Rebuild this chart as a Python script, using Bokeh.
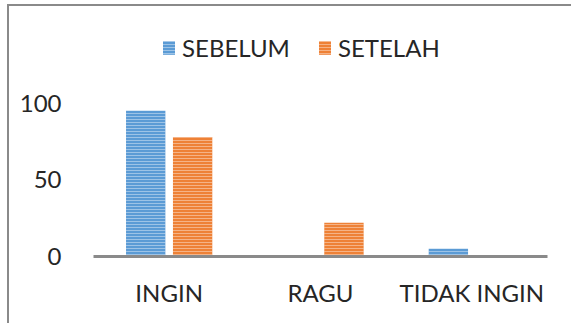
from bokeh.plotting import figure
from bokeh.models import ColumnDataSource, FactorRange, Range1d, FixedTicker, Legend, LegendItem
from bokeh.transform import dodge
from bokeh.embed import file_html
from bokeh.resources import INLINE

categories = ["INGIN", "RAGU", "TIDAK INGIN"]
sebelum = [95, 0, 5]
setelah = [78, 22, 0]
y_ticks = [0, 50, 100]

src = ColumnDataSource(data=dict(cat=categories, sebelum=sebelum, setelah=setelah))

FONT = "Lato"
TXT = "#262626"

p = figure(x_range=FactorRange(factors=categories, range_padding=0),
           y_range=Range1d(0, 150),
           width=564, height=319, output_backend="svg", toolbar_location=None,
           min_border_left=84, min_border_right=26, min_border_top=20, min_border_bottom=69)
p.margin = (4, 0, 0, 7)
p.styles = {"border-top": "2px solid #8a8a8a", "border-left": "2px solid #8a8a8a"}

r1 = p.vbar(x=dodge("cat", -0.155, range=p.x_range), top="sebelum", width=0.26, source=src,
            fill_color="#5B9BD5", line_color=None,
            hatch_pattern="horizontal_line", hatch_color="white", hatch_alpha=0.4,
            hatch_scale=3, hatch_weight=1)
r2 = p.vbar(x=dodge("cat", 0.155, range=p.x_range), top="setelah", width=0.26, source=src,
            fill_color="#EE8136", line_color=None,
            hatch_pattern="horizontal_line", hatch_color="white", hatch_alpha=0.4,
            hatch_scale=3, hatch_weight=1)

p.outline_line_color = None
p.xgrid.visible = False
p.ygrid.visible = False

p.yaxis.ticker = FixedTicker(ticks=y_ticks)
p.yaxis.axis_line_color = None
p.yaxis.major_tick_line_color = None
p.yaxis.minor_tick_line_color = None
p.yaxis.major_label_standoff = 26
p.yaxis.major_label_text_font = FONT
p.yaxis.major_label_text_font_size = "24px"
p.yaxis.major_label_text_color = TXT

p.xaxis.axis_line_color = "#8a8a8a"
p.xaxis.axis_line_width = 3
p.xaxis.major_tick_line_color = None
p.xaxis.minor_tick_line_color = None
p.xaxis.major_label_standoff = 15
p.xaxis.major_label_text_font = FONT
p.xaxis.major_label_text_font_size = "24px"
p.xaxis.major_label_text_color = TXT

legend = Legend(items=[LegendItem(label="SEBELUM", renderers=[r1]),
                       LegendItem(label="SETELAH", renderers=[r2])],
                orientation="horizontal", location=(68, 194),
                label_text_font=FONT, label_text_font_size="24px", label_text_color=TXT,
                glyph_width=15, glyph_height=17, label_standoff=6, spacing=27,
                padding=0, margin=0, border_line_color=None, background_fill_alpha=0)
p.add_layout(legend, "center")

open("out.html", "w").write(file_html(p, INLINE))
